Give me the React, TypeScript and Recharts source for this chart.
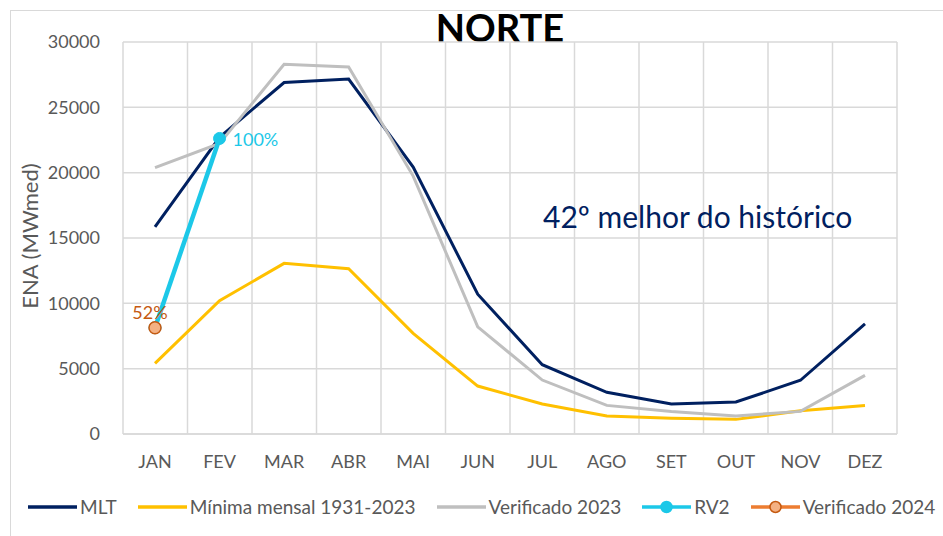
import { LineChart, Line, XAxis, YAxis, CartesianGrid } from 'recharts'

const months = ['JAN', 'FEV', 'MAR', 'ABR', 'MAI', 'JUN', 'JUL', 'AGO', 'SET', 'OUT', 'NOV', 'DEZ']
const mlt = [15860, 22700, 26900, 27160, 20430, 10700, 5300, 3190, 2300, 2450, 4110, 8420]
const minima = [5410, 10200, 13060, 12650, 7700, 3670, 2300, 1380, 1200, 1120, 1780, 2190]
const verificado2023 = [20380, 22240, 28290, 28080, 19740, 8200, 4130, 2190, 1730, 1380, 1730, 4490]
const rv2 = [8130, 22620]
const verificado2024 = [8130]
const rv2Labels = ['', '100%']
const ver2024Labels = ['52%']
const yTicks = [0, 5000, 10000, 15000, 20000, 25000, 30000]

const data = months.map((m, i) => ({
  month: m,
  mlt: mlt[i],
  minima: minima[i],
  ver2023: verificado2023[i],
  rv2: i < rv2.length ? rv2[i] : null,
  ver2024: i < verificado2024.length ? verificado2024[i] : null,
}))

const FONT = 'Lato, "Open Sans", sans-serif'
const GRAY = '#595959'

const legendItems = [
  { name: 'MLT', color: '#002060', dot: null as null | { fill: string; stroke: string } },
  { name: 'Mínima mensal 1931-2023', color: '#FFC000', dot: null },
  { name: 'Verificado 2023', color: '#BFBFBF', dot: null },
  { name: 'RV2', color: '#1CC8E8', dot: { fill: '#1CC8E8', stroke: '#1CC8E8' } },
  { name: 'Verificado 2024', color: '#ED7D31', dot: { fill: '#F4B183', stroke: '#C55A11' } },
]

// grid lines sit on the category boundaries, like the Excel original
const boundaryLines = ({ offset }: any) =>
  months.map((_, i) => offset.left + (i * offset.width) / months.length).concat(offset.left + offset.width)

const Rv2Label = (props: any) => {
  const { x, y, index } = props
  if (!rv2Labels[index]) return null
  return (
    <text x={x + 13} y={y + 8} fill="#1CC8E8" fontSize={18} fontFamily={FONT}>
      {rv2Labels[index]}
    </text>
  )
}

const Ver2024Label = (props: any) => {
  const { x, y, index } = props
  if (!ver2024Labels[index]) return null
  return (
    <text x={x - 5} y={y - 9} fill="#C55A11" fontSize={18} fontFamily={FONT} textAnchor="middle">
      {ver2024Labels[index]}
    </text>
  )
}

export default function App() {
  return (
    <div style={{ position: 'absolute', left: 0, top: 0, width: 943, height: 536, background: '#fff', fontFamily: FONT, overflow: 'hidden' }}>
      <div style={{ position: 'absolute', left: 10, top: 10, width: 960, height: 560, border: '1.5px solid #D9D9D9' }} />
      <div style={{ position: 'absolute', left: 0, width: 1000, top: 4, textAlign: 'center', fontSize: 38, fontWeight: 700, color: '#000' }}>
        NORTE
      </div>
      <LineChart width={943} height={536} data={data} margin={{ top: 42, right: 46, left: 0, bottom: 0 }}>
        <CartesianGrid stroke="#D9D9D9" strokeWidth={1.5} verticalCoordinatesGenerator={boundaryLines} />
        <XAxis
          dataKey="month"
          height={102}
          padding={{ left: 32, right: 32 }}
          axisLine={{ stroke: '#D9D9D9', strokeWidth: 1.5 }}
          tickLine={false}
          tickMargin={15}
          tick={{ fill: GRAY, fontSize: 18, fontFamily: FONT }}
          interval={0}
        />
        <YAxis
          width={123}
          domain={[0, 30000]}
          ticks={yTicks}
          axisLine={false}
          tickLine={false}
          tickMargin={17}
          tick={{ fill: GRAY, fontSize: 18, fontFamily: FONT }}
          label={{ value: 'ENA (MWmed)', angle: -90, position: 'insideLeft', offset: 30, dy: -2, style: { textAnchor: 'middle', fill: GRAY, fontSize: 22, fontFamily: FONT } }}
        />
        <Line dataKey="mlt" stroke="#002060" strokeWidth={3} dot={false} isAnimationActive={false} />
        <Line dataKey="minima" stroke="#FFC000" strokeWidth={3} dot={false} isAnimationActive={false} />
        <Line dataKey="ver2023" stroke="#BFBFBF" strokeWidth={3} dot={false} isAnimationActive={false} />
        <Line
          dataKey="rv2"
          stroke="#1CC8E8"
          strokeWidth={4.5}
          dot={{ r: 6, fill: '#1CC8E8', stroke: '#1CC8E8', strokeWidth: 1 }}
          label={<Rv2Label />}
          isAnimationActive={false}
        />
        <Line
          dataKey="ver2024"
          stroke="#ED7D31"
          strokeWidth={3}
          dot={{ r: 6, fill: '#F4B183', stroke: '#C55A11', strokeWidth: 1.5 }}
          label={<Ver2024Label />}
          isAnimationActive={false}
        />
      </LineChart>
      <div style={{ position: 'absolute', left: 543, top: 198, fontSize: 30, color: '#002060', whiteSpace: 'nowrap' }}>
        42º melhor do histórico
      </div>
      <div style={{ position: 'absolute', left: 28, top: 495, display: 'flex', alignItems: 'center', whiteSpace: 'nowrap', fontSize: 19, color: GRAY }}>
        {legendItems.map((it) => (
          <div key={it.name} style={{ display: 'flex', alignItems: 'center', marginRight: 21 }}>
            <svg width={49} height={14} style={{ marginRight: 3 }}>
              <line x1={0} y1={7} x2={49} y2={7} stroke={it.color} strokeWidth={3.5} />
              {it.dot && <circle cx={24.5} cy={7} r={5.5} fill={it.dot.fill} stroke={it.dot.stroke} strokeWidth={1.5} />}
            </svg>
            <span>{it.name}</span>
          </div>
        ))}
      </div>
    </div>
  )
}
